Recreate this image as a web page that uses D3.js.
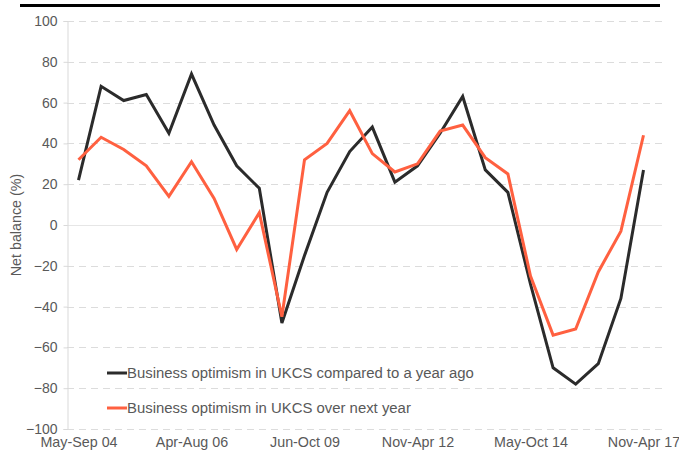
<!DOCTYPE html>
<html>
<head>
<meta charset="utf-8">
<script src="https://cdn.jsdelivr.net/npm/d3@7"></script>
<style>
  body { margin: 0; background: #fff; }
  svg { display: block; font-family: "Liberation Sans", Arial, sans-serif; }
</style>
</head>
<body>
<div id="chart"></div>
<script>
// Survey periods (26 half-yearly readings), labels shown every fifth
const tickIdx = [0, 5, 10, 15, 20, 25];
const tickLabels = ["May-Sep 04", "Apr-Aug 06", "Jun-Oct 09", "Nov-Apr 12", "May-Oct 14", "Nov-Apr 17"];

const comparedYearAgo = [22, 68, 61, 64, 45, 74, 49, 29, 18, -48, -15, 16, 36, 48, 21, 29, 45, 63, 27, 16, -29, -70, -78, -68, -36, 27];
const overNextYear    = [32, 43, 37, 29, 14, 31, 13, -12, 6, -45, 32, 40, 56, 35, 26, 30, 46, 49, 33, 25, -25, -54, -51, -23, -3, 44];

const yTicks = [100, 80, 60, 40, 20, 0, -20, -40, -60, -80, -100];

const seriesNames = ["Business optimism in UKCS compared to a year ago", "Business optimism in UKCS over next year"];
const seriesColors = ["#2b2b2b", "#ff6040"];

const W = 679, H = 457;
const plotL = 67, plotR = 662, plotT = 21, plotB = 429;

const svg = d3.select("#chart").append("svg")
    .attr("width", W)
    .attr("height", H);

const x = d3.scaleLinear().domain([0, 25]).range([78.5, 643.5]);
const y = d3.scaleLinear().domain([-100, 100]).range([plotB, plotT]);

// Top rule (page header border)
svg.append("line")
    .attr("x1", 20).attr("x2", 660)
    .attr("y1", 5.5).attr("y2", 5.5)
    .attr("stroke", "#000").attr("stroke-width", 3);

// Gridlines
svg.append("g").selectAll("line")
    .data(yTicks)
    .enter().append("line")
    .attr("x1", plotL).attr("x2", plotR)
    .attr("y1", d => Math.round(y(d)) + 0.5)
    .attr("y2", d => Math.round(y(d)) + 0.5)
    .attr("stroke", d => d === 0 ? "#e6e6e6" : "#dcdcdc")
    .attr("stroke-width", 1)
    .attr("stroke-dasharray", d => d === 0 ? null : "7,5");

// Y axis
const yAxis = svg.append("g")
    .attr("transform", `translate(${plotL + 0.5},0)`)
    .call(d3.axisLeft(y).tickValues(yTicks).tickSize(4).tickPadding(6));
yAxis.select(".domain").attr("stroke", "#d9d9d9");
yAxis.selectAll(".tick line").attr("stroke", "#d9d9d9");
yAxis.selectAll("text")
    .attr("fill", "#595959")
    .attr("font-size", 14)
    .attr("font-family", "Liberation Sans, Arial, sans-serif");

// X axis labels
const xAxis = svg.append("g")
    .attr("transform", `translate(0,${plotB})`)
    .call(d3.axisBottom(x).tickValues(tickIdx).tickFormat((d, i) => tickLabels[i]).tickSize(0).tickPadding(8));
xAxis.select(".domain").remove();
xAxis.selectAll("text")
    .attr("fill", "#595959")
    .attr("font-size", 14.3)
    .attr("font-family", "Liberation Sans, Arial, sans-serif");

// Y axis title
svg.append("text")
    .attr("transform", `translate(21,${y(0)}) rotate(-90)`)
    .attr("text-anchor", "middle")
    .attr("fill", "#595959")
    .attr("font-size", 14.3)
    .text("Net balance (%)");

// Lines
const line = d3.line()
    .x((d, i) => x(i))
    .y(d => y(d));

[comparedYearAgo, overNextYear].forEach((s, k) => {
    svg.append("path")
        .datum(s)
        .attr("fill", "none")
        .attr("stroke", seriesColors[k])
        .attr("stroke-width", 3)
        .attr("stroke-linejoin", "miter")
        .attr("d", line);
});

// Legend
const legend = svg.append("g").selectAll("g")
    .data(seriesNames)
    .enter().append("g")
    .attr("transform", (d, i) => `translate(107,${373 + i * 35})`);
legend.append("line")
    .attr("x1", 0).attr("x2", 20)
    .attr("stroke", (d, i) => seriesColors[i])
    .attr("stroke-width", 3);
legend.append("text")
    .attr("x", 20)
    .attr("dy", "0.35em")
    .attr("fill", "#595959")
    .attr("font-size", 14.9)
    .text(d => d);
</script>
</body>
</html>
